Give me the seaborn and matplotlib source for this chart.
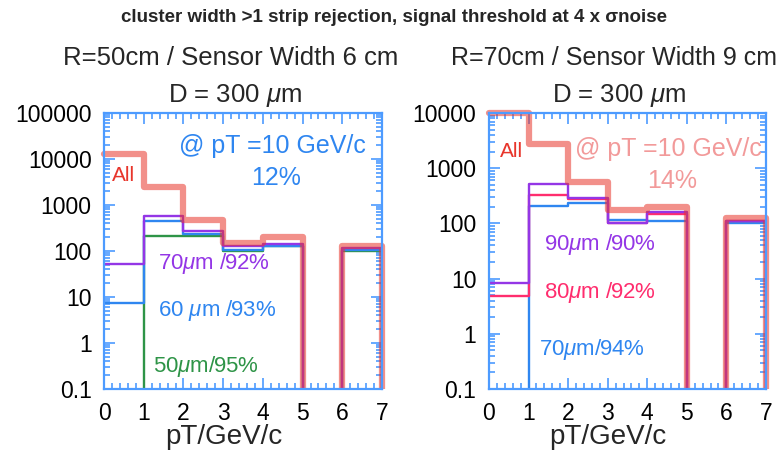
import numpy as np
import pandas as pd
import matplotlib
matplotlib.use("Agg")
import matplotlib.pyplot as plt
import seaborn as sns
from matplotlib.patches import Rectangle
from matplotlib.ticker import LogLocator, MultipleLocator, FixedLocator, NullFormatter

sns.set_theme(style="white")
plt.rcParams['font.family'] = ['Liberation Sans', 'DejaVu Sans']
plt.rcParams['mathtext.fontset'] = 'custom'
plt.rcParams['mathtext.it'] = 'Liberation Sans:italic'
plt.rcParams['mathtext.rm'] = 'Liberation Sans'

edges = [0, 1, 2, 3, 4, 5, 6, 7]
xticks = [0, 1, 2, 3, 4, 5, 6, 7]

# Left panel: R=50cm / Sensor Width 6 cm
left_all = [13000, 2500, 480, 150, 200, 0, 130]
left_70 = [52, 580, 270, 130, 140, 0, 118]
left_60 = [7.6, 460, 240, 105, 130, 0, 105]
left_50 = [0, 212, 212, 100, 130, 0, 100]
left_yticks = [0.1, 1, 10, 100, 1000, 10000, 100000]
left_ylabels = ["0.1", "1", "10", "100", "1000", "10000", "100000"]

# Right panel: R=70cm / Sensor Width 9 cm
right_all = [10000, 2700, 570, 175, 195, 0, 124]
right_90 = [8.5, 520, 290, 100, 158, 0, 112]
right_80 = [4.8, 327, 280, 100, 150, 0, 110]
right_70 = [0, 207, 231, 115, 112, 0, 100]
right_yticks = [0.1, 1, 10, 100, 1000, 10000]
right_ylabels = ["0.1", "1", "10", "100", "1000", "10000"]

C_FRAME = "#4d9bff"
C_ALL = "#e8352b"
C_BLUE = "#2f86f0"
C_PURPLE = "#9436e6"
C_GREEN = "#2e9447"
C_PINK = "#ff2d6e"
C_LPINK = "#f29a9a"

FLOOR = 1e-3


def step_frame(vals):
    v = [x if x > 0 else FLOOR for x in vals]
    xs = list(edges) + [edges[-1]]
    ys = v + [v[-1], FLOOR]
    return pd.DataFrame({"x": xs, "y": ys})


def draw(ax, series, ylim, yticks, ylabels):
    ax.set_yscale("log")
    for vals, color, lw, alpha in series:
        sns.lineplot(data=step_frame(vals), x="x", y="y", ax=ax, estimator=None,
                     sort=False, drawstyle="steps-post", color=color,
                     linewidth=lw, alpha=alpha, legend=False)
    ax.set_xlim(0, 7)
    ax.set_ylim(*ylim)
    ax.set_xlabel("")
    ax.set_ylabel("")
    for s in ax.spines.values():
        s.set_color(C_FRAME)
        s.set_linewidth(1.6)
        s.set_visible(True)
    ax.xaxis.set_major_locator(FixedLocator(xticks))
    ax.xaxis.set_minor_locator(MultipleLocator(0.2))
    ax.yaxis.set_major_locator(FixedLocator(yticks))
    ax.set_yticklabels(ylabels)
    ax.set_xticklabels([str(t) for t in xticks])
    ax.yaxis.set_minor_locator(LogLocator(base=10, subs=np.arange(2, 10), numticks=20))
    ax.yaxis.set_minor_formatter(NullFormatter())
    ax.tick_params(which="both", direction="in", colors=C_FRAME, labelcolor="black",
                   top=True, right=True, bottom=True, left=True, width=1.2)
    ax.tick_params(which="major", length=8, labelsize=16.5, pad=9)
    ax.tick_params(which="minor", length=4)
    ax.set_xlabel("pT/GeV/c", fontsize=20)
    ax.xaxis.set_label_coords(0.43, -0.125)
    # let the thick "All" line show its full width at the frame edges
    clip = Rectangle((-0.014, 0.0), 1.028, 1.016, transform=ax.transAxes,
                     facecolor="none", edgecolor="none")
    ax.add_patch(clip)
    ax.get_lines()[-1].set_clip_path(clip)


fig = plt.figure(figsize=(7.84, 4.55), dpi=100)
ax1 = fig.add_axes([0.1327, 0.145, 0.3546, 0.6066])
ax2 = fig.add_axes([0.6237, 0.145, 0.3533, 0.6066])

draw(ax1, [(left_50, C_GREEN, 1.7, 1), (left_60, C_BLUE, 1.7, 1),
           (left_70, C_PURPLE, 1.7, 1), (left_all, C_ALL, 4.5, 0.55)],
     (0.1, 100000), left_yticks, left_ylabels)
draw(ax2, [(right_70, C_BLUE, 1.7, 1), (right_80, C_PINK, 1.7, 1),
           (right_90, C_PURPLE, 1.7, 1), (right_all, C_ALL, 4.5, 0.55)],
     (0.1, 10000), right_yticks, right_ylabels)

# Annotations left
ax1.text(0.03, 0.775, "All", transform=ax1.transAxes, color=C_ALL, fontsize=15, va="center")
ax1.text(0.27, 0.88, "@ pT =10 GeV/c", transform=ax1.transAxes, color=C_BLUE, fontsize=18, va="center")
ax1.text(0.62, 0.765, "12%", transform=ax1.transAxes, color=C_BLUE, fontsize=18, va="center", ha="center")
ax1.text(0.195, 0.455, "70$\\mathit{\\mu}$m /92%", transform=ax1.transAxes, color=C_PURPLE, fontsize=16, va="center")
ax1.text(0.195, 0.285, "60 $\\mathit{\\mu}$m /93%", transform=ax1.transAxes, color=C_BLUE, fontsize=16, va="center")
ax1.text(0.175, 0.08, "50$\\mathit{\\mu}$m/95%", transform=ax1.transAxes, color=C_GREEN, fontsize=16, va="center")

# Annotations right
ax2.text(0.04, 0.86, "All", transform=ax2.transAxes, color=C_ALL, fontsize=15, va="center")
ax2.text(0.31, 0.87, "@ pT =10 GeV/c", transform=ax2.transAxes, color=C_LPINK, fontsize=18, va="center")
ax2.text(0.66, 0.755, "14%", transform=ax2.transAxes, color=C_LPINK, fontsize=18, va="center", ha="center")
ax2.text(0.2, 0.525, "90$\\mathit{\\mu}$m /90%", transform=ax2.transAxes, color=C_PURPLE, fontsize=16, va="center")
ax2.text(0.2, 0.35, "80$\\mathit{\\mu}$m /92%", transform=ax2.transAxes, color=C_PINK, fontsize=16, va="center")
ax2.text(0.18, 0.145, "70$\\mathit{\\mu}$m/94%", transform=ax2.transAxes, color=C_BLUE, fontsize=16, va="center")

# Titles
fig.text(0.503, 0.962, "cluster width >1 strip rejection, signal threshold at 4 x σnoise",
         ha="center", va="center", fontsize=13.5, fontweight="bold")
fig.text(0.294, 0.873, "R=50cm / Sensor Width 6 cm", ha="center", va="center", fontsize=18.5)
fig.text(0.783, 0.873, "R=70cm / Sensor Width 9 cm", ha="center", va="center", fontsize=18)
fig.text(0.30, 0.791, "D = 300 $\\mathit{\\mu}$m", ha="center", va="center", fontsize=18.5)
fig.text(0.79, 0.791, "D = 300 $\\mathit{\\mu}$m", ha="center", va="center", fontsize=18.5)

fig.savefig("out.png", dpi=100)
